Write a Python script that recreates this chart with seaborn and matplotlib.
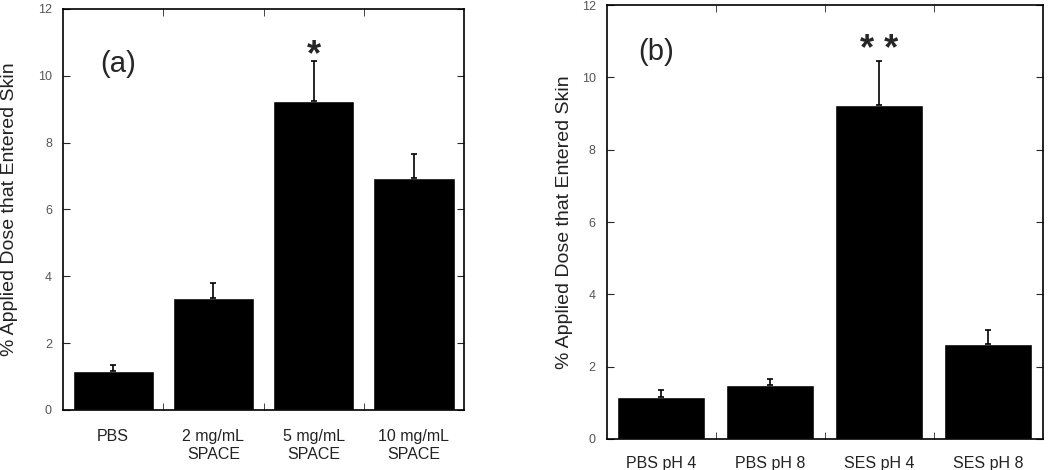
import matplotlib
matplotlib.use('Agg')
import matplotlib.pyplot as plt
import seaborn as sns
import pandas as pd
from matplotlib.ticker import FixedLocator

# data
groups_a = ['PBS', '2 mg/mL\nSPACE', '5 mg/mL\nSPACE', '10 mg/mL\nSPACE']
dose_a = [1.15, 3.35, 9.25, 6.95]
err_a = [0.2, 0.45, 1.2, 0.7]

groups_b = ['PBS pH 4', 'PBS pH 8', 'SES pH 4', 'SES pH 8']
dose_b = [1.17, 1.48, 9.25, 2.62]
err_b = [0.18, 0.18, 1.2, 0.4]

sns.set_style('ticks')
plt.rcParams['font.family'] = ['Liberation Sans', 'DejaVu Sans']

fig = plt.figure(figsize=(10.5, 4.7), dpi=100)
ax1 = fig.add_axes([0.060, 0.128, 0.382, 0.853])
ax2 = fig.add_axes([0.578, 0.066, 0.415, 0.923])


def draw_panel(ax, groups, dose, err, tag, tag_xy, star, star_y):
    df = pd.DataFrame({'group': groups, 'dose': dose})
    sns.barplot(data=df, x='group', y='dose', order=groups, color='black',
                width=0.81, errorbar=None, saturation=1, ax=ax)
    ax.errorbar(range(len(groups)), dose, yerr=[[0] * len(err), err],
                fmt='none', ecolor='black', elinewidth=1.2, capsize=2, capthick=1.2)
    ax.set_xlim(-0.5, len(groups) - 0.5)
    ax.set_ylim(0, 12)
    ax.set_yticks(range(0, 13, 2))
    ax.set_xlabel('')
    ax.set_ylabel('% Applied Dose that Entered Skin', fontsize=14, color='#222222')
    ax.tick_params(axis='x', which='major', length=0, labelsize=11.5, pad=14, colors='#222222')
    ax.xaxis.set_minor_locator(FixedLocator([i + 0.5 for i in range(len(groups) - 1)]))
    ax.tick_params(axis='x', which='minor', direction='in', length=5, top=True, bottom=True)
    ax.tick_params(axis='y', direction='in', length=5, right=True, labelsize=9,
                   labelcolor='#555555', pad=8)
    for s in ax.spines.values():
        s.set_visible(True)
        s.set_linewidth(1.2)
        s.set_color('black')
    ax.text(tag_xy[0], tag_xy[1], tag, fontsize=21, ha='center', va='center')
    ax.text(2, star_y, star, fontsize=26, fontweight='bold', ha='center', va='center')


draw_panel(ax1, groups_a, dose_a, err_a, '(a)', (0.05, 10.35), '*', 10.6)
draw_panel(ax2, groups_b, dose_b, err_b, '(b)', (-0.05, 10.7), '* *', 10.75)
ax1.yaxis.set_label_coords(-0.112, 0.5)
ax2.yaxis.set_label_coords(-0.078, 0.5)
ax2.tick_params(axis='x', which='major', pad=12)

fig.savefig('out.png', dpi=100)
